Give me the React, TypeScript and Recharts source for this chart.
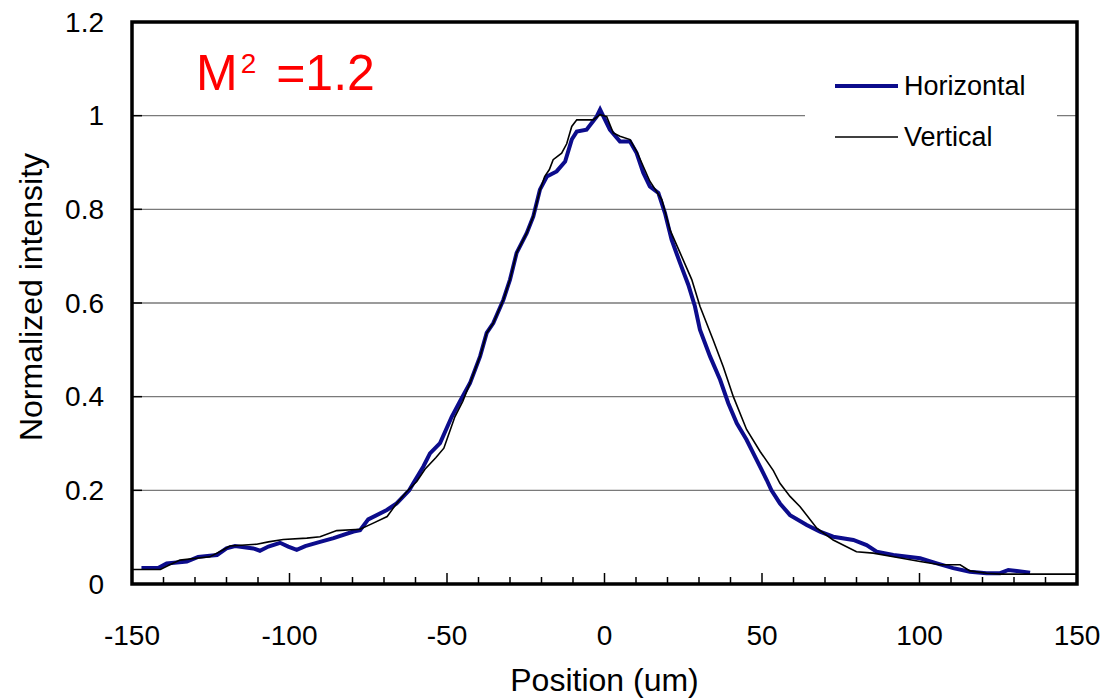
import {
  CartesianGrid,
  Legend,
  Line,
  LineChart,
  ReferenceArea,
  XAxis,
  YAxis,
} from "recharts";

// position (um), normalized intensity
const horizontal = [
  [-147, 0.034], [-141.7, 0.034], [-139, 0.044], [-132.6, 0.048], [-129, 0.058],
  [-123, 0.062], [-120, 0.076], [-117.3, 0.081], [-111.5, 0.076], [-109.4, 0.071],
  [-106.7, 0.08], [-103, 0.088], [-100.4, 0.08], [-97.7, 0.073], [-95, 0.081],
  [-90.3, 0.09], [-86, 0.098], [-79.7, 0.112], [-77.6, 0.115], [-75, 0.138],
  [-69.1, 0.158], [-66, 0.172], [-62, 0.2], [-60.7, 0.215], [-57.5, 0.251],
  [-55.4, 0.279], [-52.2, 0.301], [-48.5, 0.357], [-45.9, 0.39], [-42.7, 0.429],
  [-39.5, 0.486], [-37.4, 0.536], [-35.3, 0.557], [-32.1, 0.607], [-30, 0.65],
  [-27.9, 0.707], [-24.7, 0.749], [-22.6, 0.785], [-20.5, 0.842], [-18.3, 0.87],
  [-15.2, 0.881], [-12.5, 0.902], [-10.4, 0.949], [-8.8, 0.966], [-5.7, 0.97],
  [-2.5, 0.998], [-1.4, 1.013], [1.7, 0.97], [4.9, 0.945], [8.1, 0.945],
  [10.2, 0.92], [12.3, 0.878], [14.4, 0.849], [17.1, 0.835], [19.2, 0.792],
  [21.3, 0.735], [24, 0.685], [26.6, 0.639], [28.7, 0.593], [30.3, 0.543],
  [33.5, 0.486], [36.7, 0.436], [39.3, 0.386], [42, 0.343], [45.1, 0.308],
  [48.3, 0.265], [51.5, 0.222], [53, 0.2], [55.7, 0.172], [58.9, 0.147],
  [64.2, 0.126], [68.4, 0.112], [72.6, 0.101], [79, 0.094], [83.2, 0.083],
  [86.4, 0.069], [91.7, 0.062], [100.2, 0.055], [105.5, 0.044], [110.7, 0.034],
  [116, 0.026], [121.3, 0.023], [125.6, 0.023], [128.2, 0.03], [130.9, 0.028],
  [135.1, 0.024],
];

const vertical = [
  [-150, 0.031], [-141, 0.031], [-138, 0.041], [-134.8, 0.051], [-125.3, 0.058],
  [-121, 0.073], [-118.9, 0.081], [-110.4, 0.085], [-106.7, 0.09], [-102, 0.095],
  [-94.5, 0.098], [-90.3, 0.101], [-85, 0.114], [-77.6, 0.117], [-73.4, 0.13],
  [-69, 0.144], [-66, 0.172], [-62.8, 0.197], [-59.6, 0.219], [-57, 0.245],
  [-53.5, 0.27], [-51, 0.29], [-47.5, 0.357], [-45, 0.39], [-42.7, 0.429],
  [-39.5, 0.486], [-37.4, 0.536], [-35.3, 0.557], [-32.1, 0.607], [-30, 0.65],
  [-27.9, 0.707], [-24.7, 0.749], [-22.6, 0.785], [-20.5, 0.84], [-19, 0.87],
  [-17.5, 0.885], [-16.3, 0.906], [-13.6, 0.92], [-12, 0.94], [-10.4, 0.977],
  [-8.8, 0.991], [-3.6, 0.991], [-1.4, 1.002], [0.7, 0.998], [2.8, 0.963],
  [4.9, 0.956], [8.1, 0.949], [10.2, 0.924], [14.4, 0.86], [18.2, 0.821],
  [20.8, 0.756], [24, 0.707], [27.7, 0.65], [30.3, 0.593], [34.5, 0.521],
  [37.7, 0.464], [40.9, 0.4], [45.1, 0.33], [49.4, 0.283], [53.6, 0.242],
  [55.7, 0.215], [58.9, 0.187], [62.1, 0.165], [67.4, 0.119], [72.6, 0.094],
  [80, 0.069], [85.3, 0.066], [91.7, 0.058], [100.2, 0.048], [106.5, 0.041],
  [112.9, 0.041], [116, 0.028], [121.3, 0.023], [125.6, 0.021], [150, 0.021],
];

const xTicks = [
  -150, -140, -130, -120, -110, -100, -90, -80, -70, -60, -50, -40, -30, -20, -10,
  0, 10, 20, 30, 40, 50, 60, 70, 80, 90, 100, 110, 120, 130, 140, 150,
];
const yTicks = [0, 0.2, 0.4, 0.6, 0.8, 1, 1.2];

const seriesNames = ["Horizontal", "Vertical"];
const seriesColors = ["#0c0c8c", "#000000"];
const seriesWidths = [4, 1.6];

const toRows = (pts: number[][]) => pts.map(([x, v]) => ({ x, v }));

function XTick({ x, y, payload }: any) {
  const major = payload.value % 50 === 0;
  return (
    <g>
      <line x1={x} x2={x} y1={y} y2={y - (major ? 11 : 7)} stroke="#000" strokeWidth={1.5} />
      {major && (
        <text x={x} y={y + 61} textAnchor="middle" fontSize={28} fill="#000">
          {payload.value}
        </text>
      )}
    </g>
  );
}

function YTick({ x, y, payload }: any) {
  return (
    <g>
      <line x1={x} x2={x + 10} y1={y} y2={y} stroke="#000" strokeWidth={1.5} />
      <text x={x - 28} y={y} dy="0.35em" textAnchor="end" fontSize={28} fill="#000">
        {payload.value}
      </text>
    </g>
  );
}

function YTitle({ viewBox }: any) {
  const cx = viewBox.x + 42;
  const cy = viewBox.y + viewBox.height / 2 - 6;
  return (
    <text
      x={cx}
      y={cy}
      transform={`rotate(-90, ${cx}, ${cy})`}
      textAnchor="middle"
      fontSize={32}
      fill="#000"
    >
      Normalized intensity
    </text>
  );
}

function LegendBox({ payload }: any) {
  return (
    <svg width={252} height={110}>
      <rect width={252} height={110} fill="#fff" />
      {(payload || []).map((entry: any, i: number) => (
        <g key={entry.value}>
          <line
            x1={30}
            x2={93}
            y1={31 + i * 51}
            y2={31 + i * 51}
            stroke={seriesColors[i]}
            strokeWidth={seriesWidths[i]}
          />
          <text x={99} y={31 + i * 51} dy="0.35em" fontSize={27} fill="#000">
            {entry.value}
          </text>
        </g>
      ))}
    </svg>
  );
}

export default function App() {
  return (
    <div
      style={{
        position: "absolute",
        left: 0,
        top: 0,
        width: 1108,
        height: 698,
        background: "#fff",
        fontFamily: "'Liberation Sans', Arial, sans-serif",
      }}
    >
      <LineChart width={1108} height={698} margin={{ top: 22, right: 31, bottom: 0, left: 0 }}>
        <CartesianGrid horizontal vertical={false} stroke="#7a7a7a" strokeWidth={1.4} />
        <XAxis
          type="number"
          dataKey="x"
          domain={[-150, 150]}
          ticks={xTicks}
          interval={0}
          height={114}
          tickSize={0}
          tickMargin={0}
          tickLine={false}
          axisLine={false}
          tick={<XTick />}
          allowDataOverflow
          label={{
            value: "Position (um)",
            position: "insideBottom",
            offset: 7,
            fontSize: 32,
            fill: "#000",
          }}
        />
        <YAxis
          type="number"
          domain={[0, 1.2]}
          ticks={yTicks}
          interval={0}
          width={132}
          tickSize={0}
          tickMargin={0}
          tickLine={false}
          axisLine={false}
          tick={<YTick />}
          allowDataOverflow
          label={<YTitle />}
        />
        <Legend
          layout="vertical"
          align="center"
          verticalAlign="middle"
          content={<LegendBox />}
          wrapperStyle={{ left: 805, top: 55, width: 252, height: 110 }}
        />
        <Line
          data={toRows(horizontal)}
          dataKey="v"
          name={seriesNames[0]}
          type="linear"
          stroke={seriesColors[0]}
          strokeWidth={seriesWidths[0]}
          dot={false}
          isAnimationActive={false}
        />
        <Line
          data={toRows(vertical)}
          dataKey="v"
          name={seriesNames[1]}
          type="linear"
          stroke={seriesColors[1]}
          strokeWidth={seriesWidths[1]}
          dot={false}
          isAnimationActive={false}
        />
        <ReferenceArea
          x1={-150}
          x2={150}
          y1={0}
          y2={1.2}
          fill="none"
          stroke="#000"
          strokeWidth={3.5}
          ifOverflow="visible"
        />
      </LineChart>
      <svg
        width={1108}
        height={698}
        style={{ position: "absolute", left: 0, top: 0, pointerEvents: "none" }}
      >
        <text x={196} y={90} fontSize={50} fill="#ff0000">
          M
          <tspan fontSize={28} dx={3} dy={-17}>
            2
          </tspan>
          <tspan dx={6} dy={17}>
            {" =1.2"}
          </tspan>
        </text>
      </svg>
    </div>
  );
}
